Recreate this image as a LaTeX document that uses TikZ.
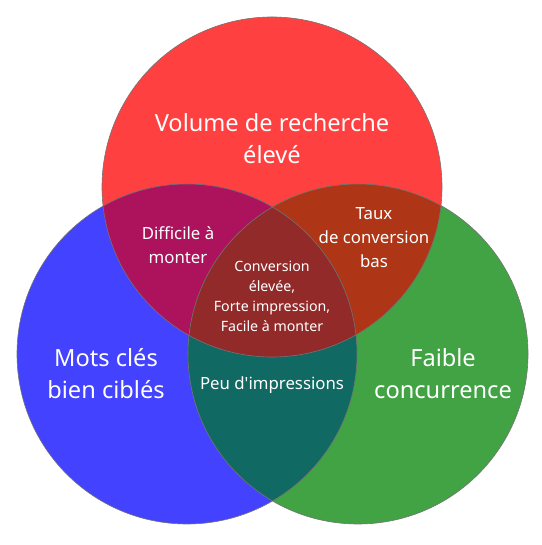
\documentclass[tikz,border=0pt]{standalone}
\usepackage{fontspec}
\newfontfamily\vennfont{Noto Sans}
\usepackage{xcolor}
\usepackage{tikz}

\definecolor{vRed}{HTML}{FF4040}
\definecolor{vBlue}{HTML}{4242FF}
\definecolor{vGreen}{HTML}{41A343}
\definecolor{vRedBlue}{HTML}{AD135D}
\definecolor{vRedGreen}{HTML}{AE3616}
\definecolor{vBlueGreen}{HTML}{106962}
\definecolor{vAll}{HTML}{922A2A}

\begin{document}
\begin{tikzpicture}[
    x=1pt, y=1pt,
    set/.style={radius=170pt},
    rim/.style={draw=black!55, line width=0.6pt, radius=170pt},
    bigtext/.style={text=white, align=center, font=\vennfont\fontsize{23.6}{32}\selectfont},
    midtext/.style={text=white, align=center, font=\vennfont\fontsize{16.8}{24}\selectfont},
    smalltext/.style={text=white, align=center, font=\vennfont\fontsize{14.2}{20}\selectfont}
]
    \useasboundingbox (0,0) rectangle (541,545);

    % Centres of the sets
    \coordinate (Vol)   at (272,358);
    \coordinate (Mots)  at (187,191);
    \coordinate (Faib)  at (358,191);

    % Sets
    \fill[vRed]   (Vol)  circle[set];
    \fill[vBlue]  (Mots) circle[set];
    \fill[vGreen] (Faib) circle[set];

    % Overlaps
    \begin{scope}
        \clip (Vol) circle[set];
        \fill[vRedBlue] (Mots) circle[set];
        \fill[vRedGreen] (Faib) circle[set];
    \end{scope}
    \begin{scope}
        \clip (Mots) circle[set];
        \fill[vBlueGreen] (Faib) circle[set];
        \clip (Faib) circle[set];
        \fill[vAll] (Vol) circle[set];
    \end{scope}

    % Outlines
    \draw[rim] (Vol) circle[];
    \draw[rim] (Mots) circle[];
    \draw[rim] (Faib) circle[];

    % Labels
    \node[bigtext] (volLbl)  at (272,406) {Volume de recherche\\élevé};
    \node[bigtext] (motsLbl) at (106,171) {Mots clés\\bien ciblés};
    \node[bigtext] (faibLbl) at (443,171) {Faible\\concurrence};
    \node[midtext] (diffLbl) at (178,300) {Difficile à\\monter};
    \node[midtext] (tauxLbl) at (374,307) {Taux\\de conversion\\bas};
    \node[midtext] (peuLbl)  at (272,160) {Peu d'impressions};
    \node[smalltext] (allLbl) at (272,249) {Conversion\\élevée,\\Forte impression,\\Facile à monter};

\end{tikzpicture}
\end{document}
